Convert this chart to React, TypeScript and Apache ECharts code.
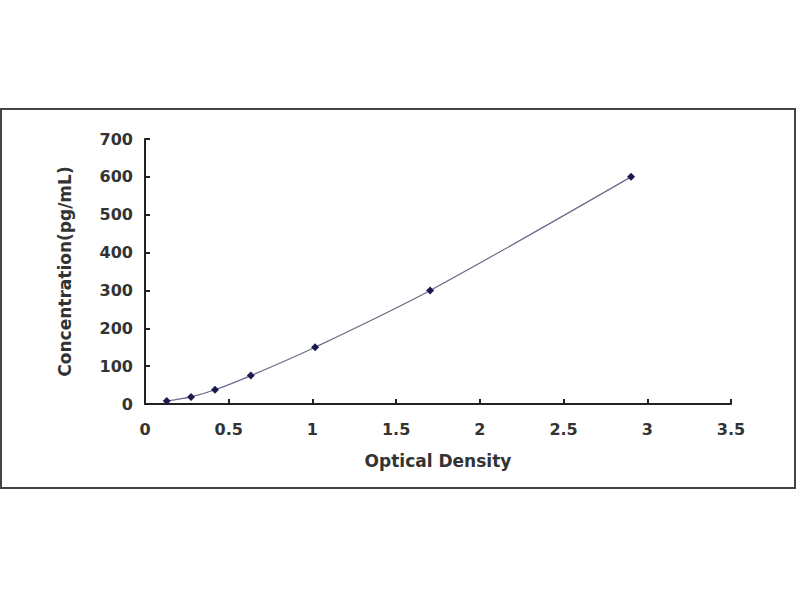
import React, { useEffect, useRef } from "react";
import * as echarts from "echarts";

const odValues = [0.13, 0.275, 0.418, 0.632, 1.016, 1.703, 2.903];
const concValues = [8, 18.75, 37.5, 75, 150, 300, 600];
const xTicks = [0, 0.5, 1, 1.5, 2, 2.5, 3, 3.5];
const yTicks = [0, 100, 200, 300, 400, 500, 600, 700];

export default function App() {
  const ref = useRef<HTMLDivElement>(null);
  useEffect(() => {
    document.body.style.margin = "0";
    const chart = echarts.init(ref.current!, null, { renderer: "svg" });
    const font = "DejaVu Sans";
    chart.setOption({
      animation: false,
      backgroundColor: "#ffffff",
      graphic: [
        {
          type: "rect",
          shape: { x: 1, y: 109, width: 794, height: 379 },
          style: { fill: "none", stroke: "#444444", lineWidth: 2 },
          silent: true,
        },
      ],
      grid: { left: 145, right: 69, top: 139, bottom: 196, containLabel: false },
      xAxis: {
        type: "value",
        min: xTicks[0],
        max: xTicks[xTicks.length - 1],
        interval: 0.5,
        name: "Optical Density",
        nameLocation: "middle",
        nameGap: 48,
        nameTextStyle: { fontFamily: font, fontWeight: "bold", fontSize: 17, color: "#333333" },
        axisLine: { show: true, lineStyle: { color: "#222222", width: 2 } },
        axisTick: { show: true, inside: true, length: 5, lineStyle: { color: "#222222", width: 2 } },
        axisLabel: { fontFamily: font, fontWeight: "bold", fontSize: 16, color: "#333333", margin: 17 },
        splitLine: { show: false },
      },
      yAxis: {
        type: "value",
        min: yTicks[0],
        max: yTicks[yTicks.length - 1],
        interval: 100,
        name: "Concentration(pg/mL)",
        nameLocation: "middle",
        nameGap: 72,
        nameTextStyle: { fontFamily: font, fontWeight: "bold", fontSize: 17, color: "#333333" },
        axisLine: { show: true, lineStyle: { color: "#222222", width: 2 } },
        axisTick: { show: true, inside: true, length: 5, lineStyle: { color: "#222222", width: 2 } },
        axisLabel: { fontFamily: font, fontWeight: "bold", fontSize: 16, color: "#333333", margin: 12 },
        splitLine: { show: false },
      },
      series: [
        {
          type: "line",
          data: odValues.map((x, i) => [x, concValues[i]]),
          smooth: 0.3,
          symbol: "diamond",
          symbolSize: 8,
          itemStyle: { color: "#1a1a50" },
          lineStyle: { color: "#6a6a8a", width: 1.2 },
        },
      ],
    });
    return () => chart.dispose();
  }, []);
  return <div ref={ref} style={{ width: 800, height: 600 }} />;
}
